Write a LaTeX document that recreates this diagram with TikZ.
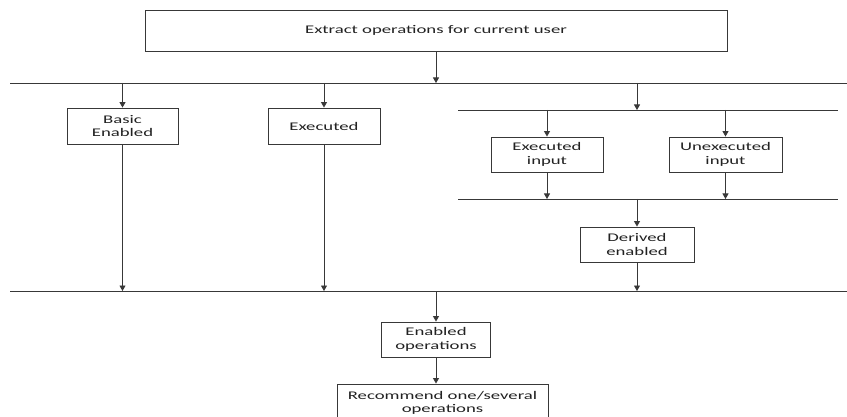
\documentclass[tikz,border=0pt]{standalone}
\usepackage{fontspec}
\setmainfont{Carlito}[FakeStretch=1.6]
\usetikzlibrary{arrows.meta}
\definecolor{linec}{HTML}{383838}
\definecolor{textc}{HTML}{222222}
\begin{document}
\begin{tikzpicture}[x=1pt,y=-1pt,
  box/.style={draw=linec, line width=0.9pt, fill=white, inner sep=0pt,
    align=center, text=textc, font=\fontsize{11.7}{13.5}\selectfont},
  arr/.style={draw=linec, line width=0.9pt, -{Triangle[length=5.5pt,width=6pt]}},
  bus/.style={draw=linec, line width=0.9pt}]
\useasboundingbox (0,0) rectangle (847,417);
\clip (0,0) rectangle (847,417);

% boxes
\node[box, minimum width=582pt, minimum height=41pt] (extract) at (436,30.5) {Extract operations for current user};
\node[box, minimum width=111pt, minimum height=36pt] (basic) at (122.5,126) {Basic\\Enabled};
\node[box, minimum width=112pt, minimum height=36pt] (exec) at (324,126) {Executed};
\node[box, minimum width=112pt, minimum height=35pt] (execin) at (547,154.5) {Executed\\input};
\node[box, minimum width=113pt, minimum height=35pt] (unexecin) at (725.5,154.5) {Unexecuted\\input};
\node[box, minimum width=114pt, minimum height=35pt] (derived) at (637,244.5) {Derived\\enabled};
\node[box, minimum width=109pt, minimum height=35pt] (enabled) at (436,339.5) {Enabled\\operations};
\node[box, minimum width=211pt, minimum height=38pt] (recommend) at (442.5,403) {Recommend one/several\\operations};

% horizontal bus lines
\coordinate (busA) at (436,83);
\coordinate (busB) at (637,110);
\coordinate (busC) at (637,199);
\coordinate (busD) at (436,291);
\draw[bus] (10,83) -- (847,83);
\draw[bus] (458,110) -- (838,110);
\draw[bus] (458,199) -- (838,199);
\draw[bus] (10,291) -- (847,291);

% connectors
\draw[arr] (extract.south) -- (busA);
\draw[arr] (busA -| basic) -- (basic.north);
\draw[arr] (busA -| exec) -- (exec.north);
\draw[arr] (busA -| busB) -- (busB);
\draw[arr] (busB -| execin) -- (execin.north);
\draw[arr] (busB -| unexecin) -- (unexecin.north);
\draw[arr] (execin.south) -- (busC -| execin);
\draw[arr] (unexecin.south) -- (busC -| unexecin);
\draw[arr] (busC) -- (derived.north);
\draw[arr] (derived.south) -- (busD -| derived);
\draw[arr] (basic.south) -- (busD -| basic);
\draw[arr] (exec.south) -- (busD -| exec);
\draw[arr] (busD) -- (enabled.north);
\draw[arr] (enabled.south) -- (enabled.south |- recommend.north);
\end{tikzpicture}
\end{document}
